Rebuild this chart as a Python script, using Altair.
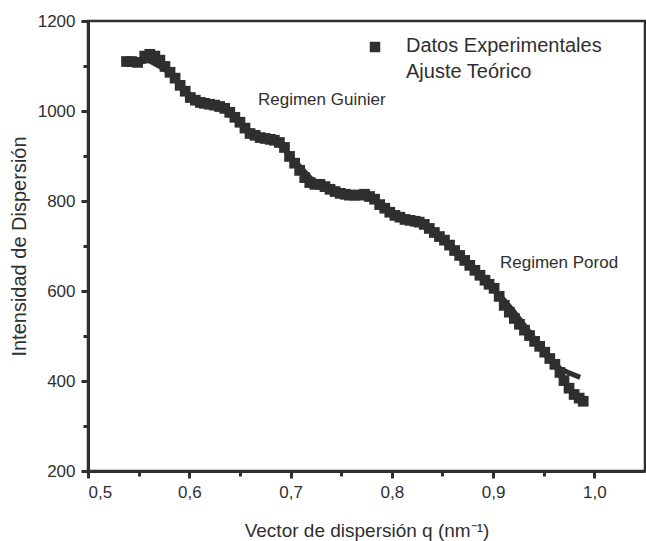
import altair as alt
import pandas as pd

q_exp = [0.538, 0.543, 0.549, 0.556, 0.561, 0.566, 0.571, 0.576, 0.581, 0.586,
         0.591, 0.596, 0.601, 0.606, 0.611, 0.615, 0.620, 0.625, 0.630, 0.635,
         0.640, 0.645, 0.650, 0.655, 0.660, 0.665, 0.670, 0.675, 0.680, 0.684,
         0.689, 0.694, 0.699, 0.704, 0.709, 0.714, 0.719, 0.724, 0.729, 0.734,
         0.739, 0.744, 0.749, 0.754, 0.758, 0.763, 0.768, 0.773, 0.778, 0.783,
         0.788, 0.793, 0.798, 0.803, 0.808, 0.813, 0.818, 0.823, 0.827, 0.832,
         0.837, 0.842, 0.847, 0.852, 0.857, 0.862, 0.867, 0.872, 0.877, 0.882,
         0.887, 0.892, 0.896, 0.901, 0.906, 0.911, 0.916, 0.921, 0.926, 0.931,
         0.936, 0.941, 0.946, 0.951, 0.956, 0.961, 0.966, 0.970, 0.975, 0.980,
         0.985, 0.989]
i_exp = [1110, 1110, 1108, 1122, 1126, 1122, 1113, 1099, 1086, 1073,
         1057, 1044, 1030, 1024, 1019, 1017, 1015, 1013, 1010, 1006,
         997, 986, 975, 962, 950, 946, 941, 939, 937, 935,
         930, 919, 899, 884, 868, 852, 841, 837, 837, 832,
         826, 821, 817, 815, 813, 813, 813, 815, 810, 804,
         792, 784, 775, 768, 764, 759, 757, 755, 753, 748,
         739, 730, 721, 713, 702, 690, 679, 668, 657, 646,
         635, 624, 615, 606, 588, 568, 553, 539, 526, 513,
         501, 488, 477, 464, 450, 437, 419, 401, 384, 370,
         362, 355]

# Theoretical fit
q_fit = [0.537, 0.550, 0.560, 0.570, 0.580, 0.590, 0.600, 0.610, 0.620, 0.640,
         0.660, 0.680, 0.690, 0.700, 0.710, 0.720, 0.740, 0.760, 0.780, 0.800,
         0.820, 0.840, 0.860, 0.880, 0.900, 0.910, 0.920, 0.940, 0.950, 0.966,
         0.975, 0.986]
i_fit = [1105, 1108, 1112, 1100, 1085, 1060, 1035, 1020, 1012, 995,
         955, 935, 925, 898, 875, 850, 825, 812, 805, 772,
         757, 735, 695, 650, 603, 582, 556, 497, 462, 428,
         418, 408]

major_x = [0.5, 0.6, 0.7, 0.8, 0.9, 1.0]
minor_x = [0.55, 0.65, 0.75, 0.85, 0.95]
major_y = [200, 400, 600, 800, 1000, 1200]
minor_y = [300, 500, 700, 900, 1100]

exp_df = pd.DataFrame({"q": q_exp, "I": i_exp})
fit_df = pd.DataFrame({"q": q_fit, "I": i_fit})

FONT = "Liberation Sans"
INK = "#2f2f2f"

xscale = alt.Scale(domain=[0.5, 1.05], nice=False, zero=False)
yscale = alt.Scale(domain=[200, 1200], nice=False, zero=False)

x_major = alt.Axis(values=major_x, labelExpr="replace(format(datum.value, '.1f'), '.', ',')",
                   tickSize=7, tickWidth=3, domainWidth=3, domainColor=INK, tickColor=INK,
                   labelFontSize=17, labelColor=INK, labelFont=FONT, labelPadding=6,
                   title="Vector de dispersión q (nm⁻¹)", titleFontSize=19, titleFont=FONT,
                   titleFontWeight="normal", titleColor=INK, titlePadding=21,
                   grid=False, orient="bottom")
y_major = alt.Axis(values=major_y, format="d",
                   tickSize=7, tickWidth=3, domainWidth=3, domainColor=INK, tickColor=INK,
                   labelFontSize=17, labelColor=INK, labelFont=FONT, labelPadding=6,
                   title="Intensidad de Dispersión", titleFontSize=20, titleFont=FONT,
                   titleFontWeight="normal", titleColor=INK, titlePadding=8,
                   grid=False, orient="left")
x_minor = alt.Axis(values=minor_x, labels=False, tickSize=5, tickWidth=3, tickColor=INK,
                   domain=False, grid=False, title=None, orient="bottom")
y_minor = alt.Axis(values=minor_y, labels=False, tickSize=5, tickWidth=3, tickColor=INK,
                   domain=False, grid=False, title=None, orient="left")

points = alt.Chart(exp_df).mark_square(size=115, color=INK, opacity=1).encode(
    x=alt.X("q:Q", scale=xscale, axis=x_major),
    y=alt.Y("I:Q", scale=yscale, axis=y_major),
)

fit = alt.Chart(fit_df).mark_line(color=INK, strokeWidth=5).encode(
    x=alt.X("q:Q", scale=xscale, axis=x_minor),
    y=alt.Y("I:Q", scale=yscale, axis=y_minor),
)


def label(text, x, y, size):
    return alt.Chart(alt.Data(values=[{"t": text}])).mark_text(
        font=FONT, fontSize=size, color=INK, align="left", baseline="alphabetic"
    ).encode(text="t:N", x=alt.value(x), y=alt.value(y))


legend_sq = alt.Chart(alt.Data(values=[{"t": "Datos Experimentales"}])).mark_square(
    size=110, color=INK, opacity=1).encode(x=alt.value(287), y=alt.value(26))

chart = alt.layer(
    points, fit,
    legend_sq,
    label("Datos Experimentales", 318, 31, 20),
    label("Ajuste Teórico", 318, 57, 20),
    label("Regimen Guinier", 170, 84, 17),
    label("Regimen Porod", 412, 247, 17),
).resolve_axis(x="independent", y="independent").properties(
    width=557, height=450,
    padding={"left": 88, "top": 21, "right": 1, "bottom": 70},
    autosize=alt.AutoSizeParams(type="none"),
    background="white",
).configure_view(stroke=INK, strokeWidth=2.5)

chart.save("out.html", embed_options={"renderer": "svg", "actions": False})
